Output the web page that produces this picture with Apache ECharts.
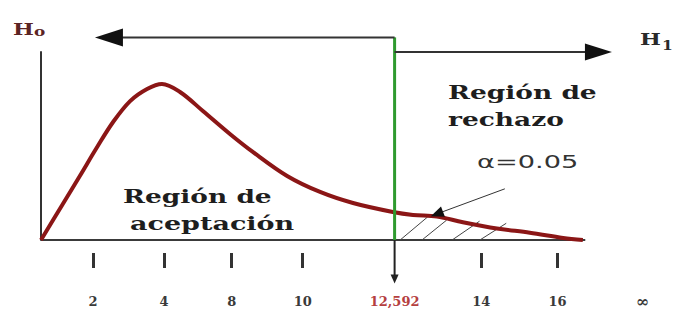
<!DOCTYPE html>
<html>
<head>
<meta charset="utf-8">
<script src="https://cdn.jsdelivr.net/npm/echarts@6/dist/echarts.min.js"></script>
<style>
  html, body { margin: 0; padding: 0; background: #fff; }
  #main { width: 678px; height: 310px; }
</style>
</head>
<body>
<div id="main"></div>
<script>
// curva de densidad (unidades del esquema)
var curveX = [0, 0.63, 1.12, 1.62, 2.08, 2.57, 3.06, 3.49, 4.01, 4.67, 5.45, 6.11, 7.10, 8.05, 9.0, 10.15, 10.73, 11.42, 12.17, 13.15, 14.1, 15.06, 15.63];
var curveY = [0, 0.0345, 0.0613, 0.089, 0.113, 0.133, 0.1446, 0.1494, 0.1417, 0.1235, 0.1015, 0.0843, 0.0613, 0.046, 0.0354, 0.0268, 0.024, 0.0225, 0.017, 0.011, 0.007, 0.002, 0];

var critX = 10.2;          // 12,592
var baseEnd = 15.7;
var tickPos = [1.5, 3.55, 5.5, 7.55, 10.2, 12.7, 14.9, 17.35];
var tickLabels = ['2', '4', '8', '10', '12,592', '14', '16', '\u221e'];
var barTicks = [1.5, 3.55, 5.5, 7.55, 12.7, 14.9];

// rayado de la región de rechazo
var hatchStart = [[10.36, 0], [10.99, 0], [11.86, 0], [12.66, 0]];
var hatchEnd = [[11.15, 0.022], [11.7, 0.019], [12.65, 0.018], [13.42, 0.016]];

// flechas H0 / H1 y alfa
var arrowTopY = 0.194, arrowLeftX = 1.96;
var arrowRightY = 0.18, arrowRightX = 16.08;
var arrowDownY = -0.0373;
var alphaFrom = [11.42, 0.025], alphaTo = [13.38, 0.049];

var myChart = echarts.init(document.getElementById('main'), null, { renderer: 'svg' });

var serif = '"DejaVu Serif"';
var series = [];

// eje horizontal
series.push({
    type: 'line', data: [[0, 0], [baseEnd, 0]], symbol: 'none', clip: false, z: 2,
    lineStyle: { color: '#3a3a3a', width: 2 }
});
// rayado
hatchStart.forEach(function (p, i) {
    series.push({
        type: 'line', data: [p, hatchEnd[i]], symbol: 'none', z: 3,
        lineStyle: { color: '#444', width: 1 }
    });
});
// curva
series.push({
    type: 'line', data: curveX.map(function (x, i) { return [x, curveY[i]]; }),
    smooth: 0.35, symbol: 'none', z: 5, clip: false,
    lineStyle: { color: '#8b1616', width: 4 }
});
// valor crítico
series.push({
    type: 'line', data: [[critX, 0], [critX, arrowTopY]], symbol: 'none', clip: false, z: 6,
    lineStyle: { color: '#2e9a2e', width: 3 }
});
// flecha hacia abajo
series.push({
    type: 'line', symbol: 'none', showSymbol: true, clip: false, z: 6,
    data: [[critX, 0], { value: [critX, arrowDownY], symbol: 'triangle', symbolSize: [8, 9], symbolRotate: 180 }],
    lineStyle: { color: '#222', width: 2 }, itemStyle: { color: '#222' }
});
// flecha H0
series.push({
    type: 'line', symbol: 'none', showSymbol: true, clip: false, z: 6,
    data: [[critX, arrowTopY], { value: [arrowLeftX, arrowTopY], symbol: 'triangle', symbolSize: [18, 28], symbolRotate: 90 }],
    lineStyle: { color: '#333', width: 2 }, itemStyle: { color: '#111' }
});
// flecha H1
series.push({
    type: 'line', symbol: 'none', showSymbol: true, clip: false, z: 6,
    data: [[critX, arrowRightY], { value: [arrowRightX, arrowRightY], symbol: 'triangle', symbolSize: [17, 27], symbolRotate: -90 }],
    lineStyle: { color: '#333', width: 2 }, itemStyle: { color: '#111' }
});
// flecha alfa
series.push({
    type: 'line', symbol: 'none', showSymbol: true, clip: false, z: 7,
    data: [{ value: alphaFrom, symbol: 'triangle', symbolSize: [11, 13], symbolRotate: 111 }, alphaTo],
    lineStyle: { color: '#333', width: 1 }, itemStyle: { color: '#111' }
});

var option = {
    animation: false,
    grid: { left: 41, right: 13, top: 52, bottom: 70 },
    xAxis: {
        type: 'value', min: 0, max: 18, offset: 13,
        axisLine: { show: false, onZero: false },
        splitLine: { show: false },
        axisTick: { show: true, customValues: barTicks, length: 15, lineStyle: { color: '#333', width: 3 } },
        axisLabel: {
            customValues: tickPos, margin: 42,
            fontFamily: serif, fontSize: 13, fontWeight: 'bold', color: '#3a3a3a',
            formatter: function (v) {
                var i = tickPos.indexOf(v);
                if (i < 0) return '';
                if (tickPos[i] === critX) return '{r|' + tickLabels[i] + '}';
                if (i === tickLabels.length - 1) return '{inf|' + tickLabels[i] + '}';
                return tickLabels[i];
            },
            rich: {
                r: { color: '#b5403f', fontFamily: serif, fontSize: 13, fontWeight: 'bold' },
                inf: { color: '#3a3a3a', fontFamily: serif, fontSize: 16, lineHeight: 12 }
            }
        }
    },
    yAxis: {
        type: 'value', min: 0, max: 0.18,
        axisLine: { show: true, lineStyle: { color: '#333', width: 2 } },
        axisTick: { show: false }, axisLabel: { show: false }, splitLine: { show: false }
    },
    graphic: [
        { type: 'text', x: 123, y: 197, scaleX: 1.47, style: { text: 'Región de', font: 'bold 18px ' + serif, fill: '#1e1e1e', verticalAlign: 'middle' } },
        { type: 'text', x: 130, y: 223, scaleX: 1.5, style: { text: 'aceptación', font: 'bold 18px ' + serif, fill: '#1e1e1e', verticalAlign: 'middle' } },
        { type: 'text', x: 448, y: 93, scaleX: 1.47, style: { text: 'Región de', font: 'bold 18px ' + serif, fill: '#1e1e1e', verticalAlign: 'middle' } },
        { type: 'text', x: 448, y: 120, scaleX: 1.47, style: { text: 'rechazo', font: 'bold 18px ' + serif, fill: '#1e1e1e', verticalAlign: 'middle' } },
        { type: 'text', x: 477, y: 162, scaleX: 1.6, style: { text: 'α=0.05', font: '17px "DejaVu Sans"', fill: '#333', verticalAlign: 'middle' } },
        { type: 'text', x: 13, y: 29, scaleX: 1.3, style: { text: 'H', font: 'bold 17px ' + serif, fill: '#5b2424', verticalAlign: 'middle' } },
        { type: 'text', x: 34, y: 32, scaleX: 1.3, style: { text: 'o', font: 'bold 13px ' + serif, fill: '#5b2424', verticalAlign: 'middle' } },
        { type: 'text', x: 640, y: 39, scaleX: 1.3, style: { text: 'H', font: 'bold 17px ' + serif, fill: '#2a2a2a', verticalAlign: 'middle' } },
        { type: 'text', x: 662, y: 45, scaleX: 1.2, style: { text: '1', font: 'bold 13px ' + serif, fill: '#2a2a2a', verticalAlign: 'middle' } }
    ],
    series: series
};

myChart.setOption(option);
</script>
</body>
</html>
